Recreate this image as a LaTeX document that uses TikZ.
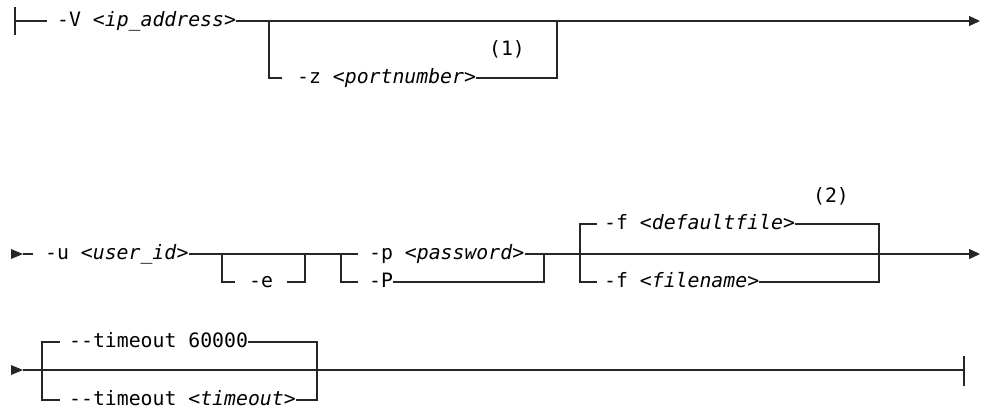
\documentclass[tikz,border=0pt]{standalone}
\usepackage{fontspec}
\setmonofont{DejaVu Sans Mono}
\usetikzlibrary{arrows.meta}
\begin{document}
\begin{tikzpicture}[x=1pt,y=-1pt,
  rail/.style={line width=1.1pt, draw=black!85},
  lbl/.style={anchor=base west, inner sep=0pt, font=\ttfamily\fontsize{19.8}{24}\selectfont},
  note/.style={inner sep=0pt, font=\ttfamily\fontsize{19.8}{24}\selectfont},
  endarrow/.style={-{Triangle[length=11pt,width=10pt]}}
]
\useasboundingbox (0,0) rectangle (984,410);
% label baseline sits 5.5 below its rail; line ends lifted by the same amount
\def\lift{5.5pt}

% ---------------- Row 1 ----------------
\coordinate (r1s) at (15,21);
\coordinate (r1e) at (980,21);
\coordinate (zL) at (269,21);
\coordinate (zR) at (557,21);
\draw[rail] (15,7) -- (15,35);
\node[lbl] (V) at (57,26.5) {-V <\textit{ip\_address}>};
\node[lbl] (Z) at (297,83.5) {-z <\textit{portnumber}>};
\node[note] (n1) at (507,49) {(1)};
\draw[rail] (r1s) -- (47,21);
\draw[rail,endarrow] ([yshift=\lift]V.base east) -- (r1e);
\draw[rail] (zL) -- (269,78) -- (282,78);
\draw[rail] ([yshift=\lift]Z.base east) -- (557,78) -- (zR);

% ---------------- Row 2 ----------------
\coordinate (r2s) at (23,254);
\coordinate (r2e) at (980,254);
\fill[black!85] (11,249) -- (r2s) -- (11,259) -- cycle;
\node[lbl] (U) at (45,259.5) {-u <\textit{user\_id}>};
\draw[rail] (r2s) -- (33,254);
% -e
\coordinate (eL) at (222,254);
\coordinate (eR) at (305,254);
\node[lbl] (E) at (249,287.5) {-e};
\draw[rail] ([yshift=\lift]U.base east) -- (358,254);
\draw[rail] (eL) -- (222,282) -- (235,282);
\draw[rail] (287,282) -- (305,282) -- (eR);
% -p / -P
\coordinate (pL) at (341,254);
\coordinate (pR) at (544,254);
\node[lbl] (P1) at (369,259.5) {-p <\textit{password}>};
\node[lbl] (P2) at (369,287.5) {-P};
\draw[rail] (pL) -- (341,282) -- (358,282);
\draw[rail] ([yshift=\lift]P2.base east) -- (544,282) -- (pR);
% -f
\coordinate (fL) at (580,254);
\coordinate (fR) at (879,254);
\node[lbl] (F1) at (604,229.5) {-f <\textit{defaultfile}>};
\node[lbl] (F2) at (604,287.5) {-f <\textit{filename}>};
\node[note] (n2) at (831,196) {(2)};
\draw[rail,endarrow] ([yshift=\lift]P1.base east) -- (r2e);
\draw[rail] (597,224) -- (580,224) -- (580,282) -- (597,282);
\draw[rail] ([yshift=\lift]F1.base east) -- (879,224) -- (879,282) -- ([yshift=\lift]F2.base east);

% ---------------- Row 3 ----------------
\coordinate (r3s) at (23,370);
\coordinate (r3e) at (964,370);
\fill[black!85] (11,365) -- (r3s) -- (11,375) -- cycle;
\node[lbl] (T1) at (69,347.5) {--timeout 60000};
\node[lbl] (T2) at (69,405.5) {--timeout <\textit{timeout}>};
\draw[rail] (r3s) -- (r3e);
\draw[rail] (60,342) -- (42,342) -- (42,400) -- (60,400);
\draw[rail] ([yshift=\lift]T1.base east) -- (317,342) -- (317,400) -- ([yshift=\lift]T2.base east);
\draw[line width=1.8pt, draw=black!85] (323,370) -- (347,370);
\draw[rail] (964,356) -- (964,386);
\end{tikzpicture}
\end{document}
